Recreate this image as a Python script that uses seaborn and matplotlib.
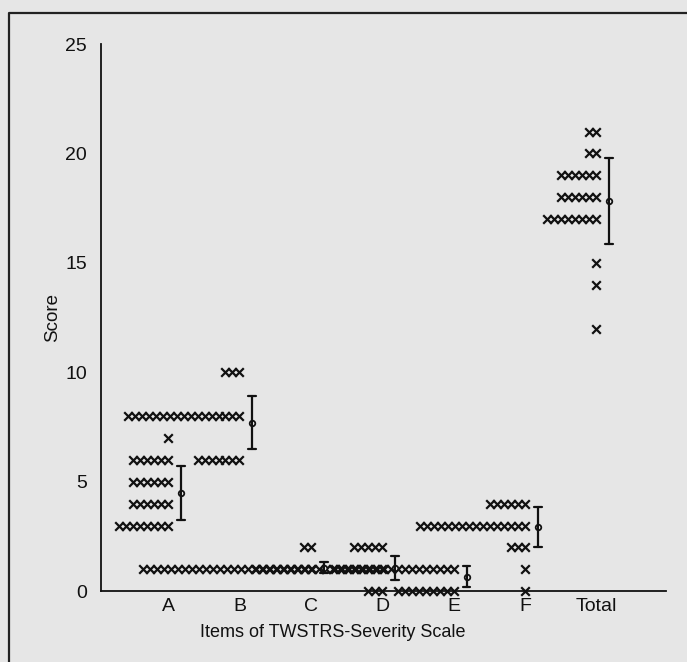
import numpy as np
import pandas as pd
import seaborn as sns
import matplotlib.pyplot as plt
from matplotlib.lines import Line2D

# Score counts per item (score level -> number of patients)
items = ['A', 'B', 'C', 'D', 'E', 'F', 'Total']
A_scores, A_counts = [3, 4, 5, 6, 7], [8, 6, 6, 6, 1]
B_scores, B_counts = [6, 8, 10], [7, 17, 3]
C_scores, C_counts = [1, 2], [25, 2]
D_scores, D_counts = [0, 1, 2], [3, 19, 5]
E_scores, E_counts = [0, 1], [9, 18]
F_scores, F_counts = [0, 1, 2, 3, 4], [1, 1, 3, 16, 6]
T_scores, T_counts = [12, 14, 15, 17, 18, 19, 20, 21], [1, 1, 1, 8, 6, 6, 2, 2]

scores = [A_scores, B_scores, C_scores, D_scores, E_scores, F_scores, T_scores]
counts = [A_counts, B_counts, C_counts, D_counts, E_counts, F_counts, T_counts]

# long table: one row per patient score, x's stacked leftwards from the item tick
step = 0.098
rows = []
for i, item in enumerate(items):
    pos = i + 1
    for s, c in zip(scores[i], counts[i]):
        for k in range(c):
            rows.append({'item': item, 'score': s, 'xpos': pos - step * (c - 1 - k),
                         'barpos': pos + 0.18})
df = pd.DataFrame(rows)

sns.set_style('white')
plt.rcParams['font.family'] = ['Liberation Sans', 'DejaVu Sans']

fig = plt.figure(figsize=(6.87, 6.62), dpi=100, facecolor='#e6e6e6')
ax = fig.add_axes([0.147, 0.107, 0.822, 0.8265])
ax.set_facecolor('#e6e6e6')

sns.scatterplot(data=df, x='xpos', y='score', marker='x', color='#111111', s=38,
                linewidth=1.6, clip_on=False, legend=False, ax=ax, zorder=3)

# mean +/- SD
sns.pointplot(data=df, x='barpos', y='score', native_scale=True, errorbar='sd',
              linestyle='none', marker='o', markersize=4, color='#111111',
              markerfacecolor='white', markeredgewidth=1.3, capsize=0.11,
              err_kws={'linewidth': 1.6}, ax=ax, zorder=4)

ax.set_xlim(0.06, 7.97)
ax.set_ylim(0, 25)
ax.set_xticks(range(1, len(items) + 1))
ax.set_xticklabels(items)
ax.set_xticks([7.96], minor=True)
ax.set_yticks([0, 5, 10, 15, 20, 25])
ax.tick_params(axis='both', direction='in', length=4, width=1.1, labelsize=14,
               colors='#111111')
ax.tick_params(axis='x', pad=5)
ax.tick_params(axis='y', pad=10)
ax.tick_params(axis='x', which='minor', direction='in', length=4, width=1.1)
sns.despine(ax=ax)
for sp in ['left', 'bottom']:
    ax.spines[sp].set_linewidth(1.3)
    ax.spines[sp].set_color('#111111')

ax.set_xlabel('Items of TWSTRS-Severity Scale', fontsize=13, color='#111111')
ax.set_ylabel('Score', fontsize=13.5, color='#111111')
ax.xaxis.set_label_coords(0.41, -0.06)
ax.yaxis.set_label_coords(-0.07, 0.5)

# scan frame (left and top edge)
fig.add_artist(Line2D([0.013, 0.013, 1.0], [0.0, 0.981, 0.981],
                      transform=fig.transFigure, color='#222222', linewidth=1.6))

fig.savefig('out.png', dpi=100, facecolor=fig.get_facecolor())
